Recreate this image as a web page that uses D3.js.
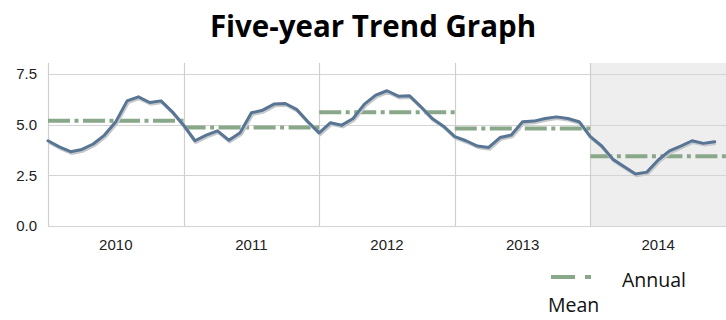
<!DOCTYPE html>
<html>
<head>
<meta charset="utf-8">
<script src="https://cdn.jsdelivr.net/npm/d3@7"></script>
<style>
  body { margin: 0; background: #fff; }
  svg { display: block; }
</style>
</head>
<body>
<div id="chart"></div>
<script>
// chart data
var years = ["2010", "2011", "2012", "2013", "2014"];
var yTicks = [0, 2.5, 5, 7.5];
var monthly = [
  4.21, 3.91, 3.67, 3.78, 4.05, 4.49, 5.15, 6.18, 6.38, 6.10, 6.18, 5.64,
  4.98, 4.21, 4.49, 4.70, 4.24, 4.60, 5.59, 5.72, 6.02, 6.05, 5.76, 5.15,
  4.60, 5.10, 4.98, 5.31, 6.02, 6.46, 6.68, 6.41, 6.43, 5.89, 5.31, 4.93,
  4.41, 4.21, 3.95, 3.88, 4.37, 4.49, 5.15, 5.18, 5.31, 5.39, 5.31, 5.15,
  4.41, 3.95, 3.29, 2.93, 2.57, 2.66, 3.26, 3.71, 3.95, 4.21, 4.08, 4.16
];
var annualMean = [5.20, 4.87, 5.62, 4.82, 3.45];
var shadedYear = "2014";

var W = 726, H = 320;
var margin = {top: 63, right: 0, bottom: 94, left: 48},
    width = W - margin.left - margin.right,
    height = H - margin.top - margin.bottom;

var svg = d3.select("#chart")
  .append("svg")
    .attr("width", W)
    .attr("height", H);

// title
svg.append("text")
    .attr("x", 373)
    .attr("y", 37)
    .attr("text-anchor", "middle")
    .attr("font-family", "'Open Sans', 'Noto Sans', sans-serif")
    .attr("font-weight", "bold")
    .attr("font-size", "29.5px")
    .attr("fill", "#000")
    .text("Five-year Trend Graph");

var g = svg.append("g")
    .attr("transform", "translate(" + margin.left + "," + margin.top + ")");

// x: month index, 12 per year
var x = d3.scaleLinear()
    .domain([0, years.length * 12])
    .range([0, width]);

var y = d3.scaleLinear()
    .domain([0, 8.05])
    .range([height, 0]);

var yearBand = d3.scaleBand()
    .domain(years)
    .range([0, width]);

// shaded year
g.append("rect")
    .attr("x", yearBand(shadedYear))
    .attr("y", 0)
    .attr("width", yearBand.bandwidth())
    .attr("height", height)
    .attr("fill", "#eeeeee");

// horizontal gridlines
g.append("g")
  .selectAll("line")
  .data(yTicks)
  .enter()
  .append("line")
    .attr("x1", 0)
    .attr("x2", width)
    .attr("y1", function(d) { return Math.round(y(d)) + 0.5; })
    .attr("y2", function(d) { return Math.round(y(d)) + 0.5; })
    .attr("stroke", "#d4d4d4")
    .attr("stroke-width", 1.2);

// vertical separators (left axis + year boundaries)
g.append("g")
  .selectAll("line")
  .data(years)
  .enter()
  .append("line")
    .attr("x1", function(d) { return Math.round(yearBand(d)) + 0.5; })
    .attr("x2", function(d) { return Math.round(yearBand(d)) + 0.5; })
    .attr("y1", 0)
    .attr("y2", height)
    .attr("stroke", "#cfcfcf")
    .attr("stroke-width", 1.2);

// y tick labels
g.append("g")
  .selectAll("text")
  .data(yTicks)
  .enter()
  .append("text")
    .attr("x", -11)
    .attr("y", function(d) { return y(d); })
    .attr("dy", "0.35em")
    .attr("text-anchor", "end")
    .attr("font-family", "'Liberation Sans', Arial, sans-serif")
    .attr("font-size", "15px")
    .attr("fill", "#222")
    .text(function(d) { return d3.format(".1f")(d); });

// year labels
g.append("g")
  .selectAll("text")
  .data(years)
  .enter()
  .append("text")
    .attr("x", function(d) { return yearBand(d) + yearBand.bandwidth() / 2; })
    .attr("y", height + 24)
    .attr("text-anchor", "middle")
    .attr("font-family", "'Liberation Sans', Arial, sans-serif")
    .attr("font-size", "15px")
    .attr("fill", "#222")
    .text(function(d) { return d; });

// annual mean segments
var dashPattern = "22,4.5,4,4.5";
var meanColor = "#89a789";
g.append("g")
  .selectAll("line")
  .data(annualMean)
  .enter()
  .append("line")
    .attr("x1", function(d, i) { return yearBand(years[i]); })
    .attr("x2", function(d, i) { return yearBand(years[i]) + yearBand.bandwidth(); })
    .attr("y1", function(d) { return y(d); })
    .attr("y2", function(d) { return y(d); })
    .attr("stroke", meanColor)
    .attr("stroke-width", 4)
    .attr("stroke-dasharray", dashPattern);

// trend line with soft shadow
var line = d3.line()
    .x(function(d, i) { return x(i); })
    .y(function(d) { return y(d); });

g.append("path")
    .datum(monthly)
    .attr("transform", "translate(1,1.5)")
    .attr("fill", "none")
    .attr("stroke", "#c6c9cc")
    .attr("stroke-width", 3.5)
    .attr("stroke-linejoin", "round")
    .attr("d", line);

g.append("path")
    .datum(monthly)
    .attr("fill", "none")
    .attr("stroke", "#587594")
    .attr("stroke-width", 3)
    .attr("stroke-linejoin", "round")
    .attr("stroke-linecap", "round")
    .attr("d", line);

// legend
var legend = svg.append("g");
legend.append("line")
    .attr("x1", 551)
    .attr("x2", 593)
    .attr("y1", 277)
    .attr("y2", 277)
    .attr("stroke", meanColor)
    .attr("stroke-width", 4)
    .attr("stroke-dasharray", "24,10,6,20");

legend.append("text")
    .attr("x", 622)
    .attr("y", 287)
    .attr("font-family", "'Open Sans', 'Noto Sans', sans-serif")
    .attr("font-size", "19.5px")
    .attr("fill", "#111")
    .text("Annual");

legend.append("text")
    .attr("x", 548)
    .attr("y", 312)
    .attr("font-family", "'Open Sans', 'Noto Sans', sans-serif")
    .attr("font-size", "19.5px")
    .attr("fill", "#111")
    .text("Mean");
</script>
</body>
</html>
